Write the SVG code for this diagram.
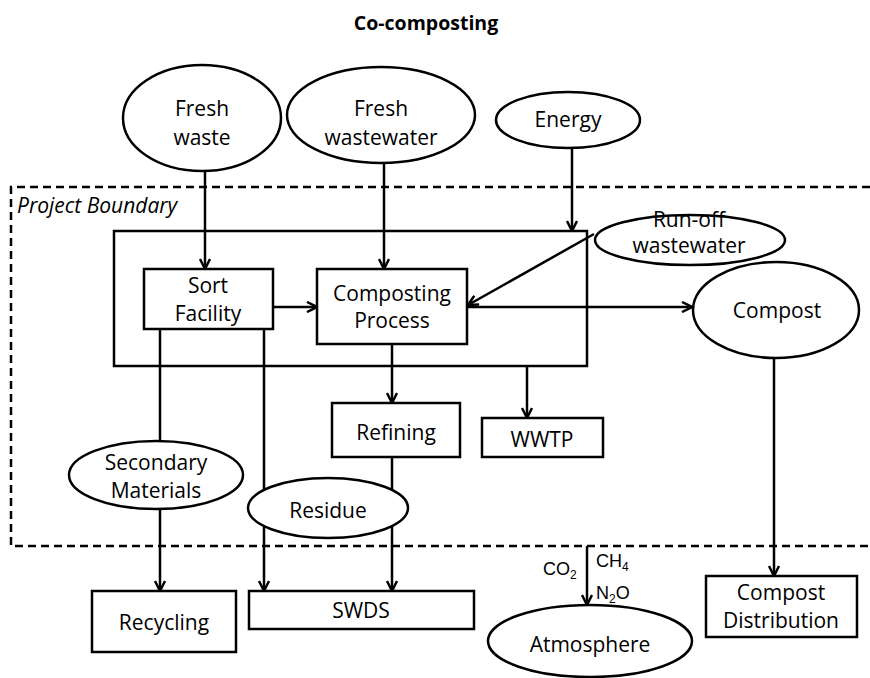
<svg xmlns="http://www.w3.org/2000/svg" width="870" height="678" viewBox="0 0 870 678">
<style>
.t{font-family:"Open Sans","Liberation Sans",sans-serif;font-size:21px;fill:#000;text-anchor:middle}
.s{font-family:"Liberation Sans",Arial,sans-serif;font-size:18px;fill:#000}
.n{fill:#fff;stroke:#000;stroke-width:2.5}
.c{fill:none;stroke:#000;stroke-width:2.5}
.a{marker-end:url(#arr)}
</style>
<defs>
<marker id="arr" viewBox="0 0 12 12" refX="11" refY="6" markerWidth="12" markerHeight="12" markerUnits="userSpaceOnUse" orient="auto">
<path d="M1,1 L11,6 L1,11" fill="none" stroke="#000" stroke-width="2.5"/>
</marker>
</defs>
<rect width="870" height="678" fill="#fff"/>
<text x="426" y="30" style="font-family:'Open Sans','Liberation Sans',sans-serif;font-size:19.5px;font-weight:bold;text-anchor:middle">Co-composting</text>
<g id="project-boundary">
<path d="M870,187 H11 V546 H870" fill="none" stroke="#000" stroke-width="2.5" stroke-dasharray="8,5"/>
<text x="17" y="213" style="font-family:'Open Sans','Liberation Sans',sans-serif;font-size:21px;font-style:italic">Project Boundary</text>
</g>
<g id="facility-box"><rect x="114" y="231" width="473" height="135" class="c"/></g>
<g id="connectors">
<line x1="205" y1="171" x2="205" y2="269" class="c a"/>
<line x1="384" y1="163" x2="384" y2="269" class="c a"/>
<line x1="572" y1="148" x2="572" y2="231" class="c a"/>
<line x1="594" y1="234" x2="468" y2="305" class="c a"/>
<line x1="273" y1="307" x2="317" y2="307" class="c a"/>
<line x1="467" y1="307" x2="692" y2="307" class="c a"/>
<line x1="392" y1="344" x2="392" y2="403" class="c a"/>
<line x1="527" y1="366" x2="527" y2="418" class="c a"/>
<line x1="160" y1="329" x2="160" y2="442" class="c"/>
<line x1="160" y1="509" x2="160" y2="591" class="c a"/>
<line x1="264" y1="329" x2="264" y2="591" class="c a"/>
<line x1="392" y1="457" x2="392" y2="591" class="c a"/>
<line x1="774" y1="358" x2="774" y2="576" class="c a"/>
<line x1="587" y1="546" x2="587" y2="605" class="c a"/>
</g>
<g id="fresh-waste"><ellipse cx="202" cy="118" rx="79" ry="53" class="n"/><text x="202" y="116" class="t">Fresh</text><text x="202" y="145" class="t">waste</text></g>
<g id="fresh-wastewater"><ellipse cx="381" cy="115" rx="94" ry="48" class="n"/><text x="381" y="116" class="t">Fresh</text><text x="381" y="145" class="t">wastewater</text></g>
<g id="energy"><ellipse cx="568" cy="120" rx="72" ry="28" class="n"/><text x="568" y="127" class="t">Energy</text></g>
<g id="runoff-wastewater"><ellipse cx="690" cy="240" rx="95" ry="25" class="n"/><text x="689" y="227" class="t">Run-off</text><text x="689" y="253" class="t">wastewater</text></g>
<g id="sort-facility"><rect x="144" y="269" width="129" height="60" class="n"/><text x="208" y="293" class="t">Sort</text><text x="208" y="321" class="t">Facility</text></g>
<g id="composting-process"><rect x="317" y="269" width="150" height="75" class="n"/><text x="392" y="301" class="t">Composting</text><text x="392" y="328" class="t">Process</text></g>
<g id="compost"><ellipse cx="776" cy="310" rx="83" ry="48" class="n"/><text x="777" y="318" class="t">Compost</text></g>
<g id="refining"><rect x="332" y="403" width="128" height="54" class="n"/><text x="396" y="440" class="t">Refining</text></g>
<g id="wwtp"><rect x="482" y="418" width="121" height="39" class="n"/><text x="542" y="447" class="t">WWTP</text></g>
<g id="secondary-materials"><ellipse cx="156" cy="475" rx="87" ry="34" class="n"/><text x="156" y="470" class="t">Secondary</text><text x="156" y="498" class="t">Materials</text></g>
<g id="residue"><ellipse cx="328" cy="508" rx="80" ry="30" class="n"/><text x="328" y="518" class="t">Residue</text></g>
<g id="recycling"><rect x="92" y="591" width="144" height="61" class="n"/><text x="164" y="630" class="t">Recycling</text></g>
<g id="swds"><rect x="249" y="591" width="225" height="38" class="n"/><text x="361" y="618" class="t">SWDS</text></g>
<g id="compost-distribution"><rect x="706" y="576" width="151" height="61" class="n"/><text x="781" y="600" class="t">Compost</text><text x="781" y="628" class="t">Distribution</text></g>
<g id="atmosphere"><ellipse cx="590" cy="641" rx="102" ry="36" class="n"/><text x="590" y="652" class="t">Atmosphere</text></g>
<g id="emission-labels">
<text x="543" y="575" class="s">CO<tspan font-size="12" dy="4">2</tspan></text>
<text x="596" y="567" class="s">CH<tspan font-size="12" dy="4">4</tspan></text>
<text x="596" y="599" class="s">N<tspan font-size="12" dy="4">2</tspan><tspan dy="-4">O</tspan></text>
</g>
</svg>
